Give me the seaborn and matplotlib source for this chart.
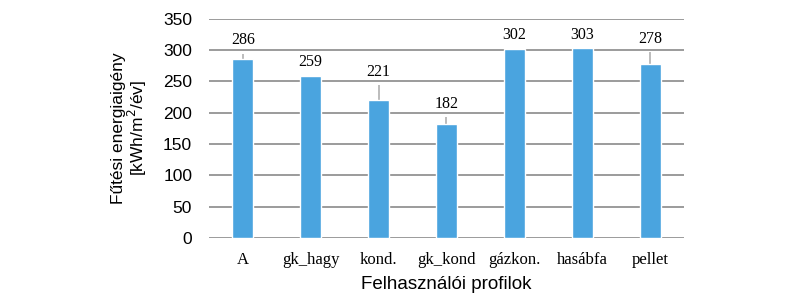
import matplotlib
matplotlib.use("Agg")
import matplotlib.pyplot as plt
import seaborn as sns
import pandas as pd
import numpy as np

categories = ["A", "gk_hagy", "kond.", "gk_kond", "gázkon.", "hasábfa", "pellet"]
values = [286, 259, 221, 182, 302, 303, 278]
err_up = [8, 0, 23, 11, 0, 0, 19]
y_ticks = [0, 50, 100, 150, 200, 250, 300, 350]

sns.set_theme(style="white")
plt.rcParams["font.family"] = ["Liberation Sans", "DejaVu Sans"]

df = pd.DataFrame({"profil": categories, "ertek": values})

fig = plt.figure(figsize=(8, 3), dpi=100)
ax = fig.add_axes([0.261, 0.207, 0.594, 0.730])

sns.barplot(data=df, x="profil", y="ertek", color="#4aa4df", width=0.31,
            saturation=1, ax=ax, zorder=3)

xpos = np.arange(len(categories))
ax.errorbar(xpos, values, yerr=[np.zeros(len(err_up)), err_up], fmt="none",
            ecolor="#b0b0b0", elinewidth=1.2, capsize=0, zorder=2)

for x, v, e in zip(xpos, values, err_up):
    ax.annotate(str(v), (x, v + e), xytext=(0, 4), textcoords="offset points",
                ha="center", va="bottom", fontsize=11.5,
                family=["Liberation Serif", "DejaVu Serif"], color="black")

ax.set_ylim(0, 350)
ax.set_xlim(-0.5, len(categories) - 0.5)
ax.set_yticks(y_ticks)
ax.yaxis.grid(True, color="#8a8a8a", linewidth=1.2)
ax.set_axisbelow(True)
for s in ax.spines.values():
    s.set_visible(False)
ax.tick_params(axis="y", length=0, pad=12, labelsize=12.5, labelcolor="black")
ax.tick_params(axis="x", length=0, pad=10, labelsize=12, labelcolor="black")
for lab in ax.get_xticklabels():
    lab.set_family(["Liberation Serif", "DejaVu Serif"])

ax.set_xlabel("Felhasználói profilok", fontsize=13.5, color="black", labelpad=6)
ax.set_ylabel("Fűtési energiaigény\n[kWh/m$^2$/év]", fontsize=12.5,
              color="black", labelpad=10, linespacing=1.0)

fig.savefig("out.png", dpi=100, facecolor="white")
